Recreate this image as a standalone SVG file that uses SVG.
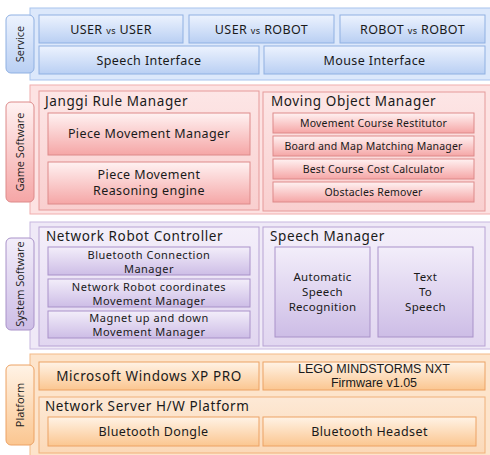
<svg xmlns="http://www.w3.org/2000/svg" width="490" height="455" viewBox="0 0 490 455">
<defs>
<linearGradient id="gB" x1="0" y1="0" x2="0" y2="1"><stop offset="0" stop-color="#edf3fe"/><stop offset="1" stop-color="#b9cff3"/></linearGradient>
<linearGradient id="gR" x1="0" y1="0" x2="0" y2="1"><stop offset="0" stop-color="#fff2f2"/><stop offset="1" stop-color="#f5a6a6"/></linearGradient>
<linearGradient id="gP" x1="0" y1="0" x2="0" y2="1"><stop offset="0" stop-color="#f3eefa"/><stop offset="1" stop-color="#cdbde6"/></linearGradient>
<linearGradient id="gO" x1="0" y1="0" x2="0" y2="1"><stop offset="0" stop-color="#fff3e6"/><stop offset="1" stop-color="#fbc690"/></linearGradient>
<linearGradient id="gPL" x1="0" y1="0" x2="0" y2="1"><stop offset="0" stop-color="#f4effa"/><stop offset="1" stop-color="#e1d6f0"/></linearGradient>
<linearGradient id="gRL" x1="0" y1="0" x2="0" y2="1"><stop offset="0" stop-color="#fde6e6"/><stop offset="1" stop-color="#f9cfcf"/></linearGradient>
<linearGradient id="gOL" x1="0" y1="0" x2="0" y2="1"><stop offset="0" stop-color="#fde9d6"/><stop offset="1" stop-color="#fbd9b8"/></linearGradient>
</defs>
<style>
text{font-family:"Noto Sans","DejaVu Sans",sans-serif;fill:#1a1a1a;}
.t{font-size:12.5px;text-anchor:middle;letter-spacing:0.4px;}
.t2{font-size:11px;text-anchor:middle;letter-spacing:0.5px;}
.s{font-size:10.5px;text-anchor:middle;letter-spacing:0.2px;}
.s2{font-size:11.5px;text-anchor:middle;letter-spacing:0.3px;}
.h{font-size:13.5px;letter-spacing:0.6px;}
.v{font-size:9px;}
.side{font-size:11px;text-anchor:middle;font-family:"Open Sans","Noto Sans",sans-serif;}
.ar{font-family:"Liberation Sans",Arial,sans-serif;font-size:12.5px;text-anchor:middle;}
.bB{fill:url(#gB);stroke:#8fb0e2;stroke-width:1;}
.bR{fill:url(#gR);stroke:#dd8a8a;stroke-width:1;}
.bP{fill:url(#gP);stroke:#a992c9;stroke-width:1;}
.bO{fill:url(#gO);stroke:#eca264;stroke-width:1;}
.lB{fill:#dce8fb;stroke:#a8c3ee;}
.lR{fill:#fde2e2;stroke:#f0aeae;}
.lP{fill:#efe9f7;stroke:#c8b8e0;}
.lO{fill:#fde4cb;stroke:#f3b987;}
</style>

<!-- Service layer -->
<g id="layer-service">
<rect class="lB" x="30" y="8" width="462" height="72"/>
<rect class="bB" x="6" y="15" width="28" height="58" rx="5"/>
<text class="side" transform="translate(24,44) rotate(-90)">Service</text>
</g>
<g id="user-vs-user"><rect class="bB" x="39" y="15" width="144" height="28"/><text class="t" x="111" y="34">USER <tspan class="v">vs</tspan>  USER</text></g>
<g id="user-vs-robot"><rect class="bB" x="189" y="15" width="145" height="28"/><text class="t" x="261.5" y="34">USER <tspan class="v">vs</tspan>  ROBOT</text></g>
<g id="robot-vs-robot"><rect class="bB" x="340" y="15" width="145" height="28"/><text class="t" x="412.5" y="34">ROBOT <tspan class="v">vs</tspan>  ROBOT</text></g>
<g id="speech-interface"><rect class="bB" x="39" y="46" width="220" height="28"/><text class="t" x="149" y="65">Speech Interface</text></g>
<g id="mouse-interface"><rect class="bB" x="264" y="46" width="221" height="28"/><text class="t" x="374.5" y="65">Mouse Interface</text></g>

<!-- Game Software layer -->
<g id="layer-game">
<rect class="lR" x="30" y="85" width="462" height="129"/>
<rect class="bR" x="6" y="102" width="28" height="100" rx="5"/>
<text class="side" transform="translate(24,152) rotate(-90)">Game Software</text>
</g>
<g id="janggi-rule-manager"><rect x="39" y="91" width="220" height="119" fill="url(#gRL)" stroke="#e59a9a"/><text class="h" x="45" y="106">Janggi Rule Manager</text></g>
<g id="piece-movement-manager"><rect class="bR" x="48" y="113" width="202" height="42"/><text class="t" x="149" y="138">Piece Movement Manager</text></g>
<g id="piece-movement-reasoning"><rect class="bR" x="48" y="162" width="202" height="42"/><text class="t" x="149" y="179">Piece Movement</text><text class="t" x="149" y="195">Reasoning engine</text></g>
<g id="moving-object-manager"><rect x="263" y="92" width="222" height="119" fill="url(#gRL)" stroke="#e59a9a"/><text class="h" x="271" y="106">Moving Object Manager</text></g>
<g id="movement-course-restitutor"><rect class="bR" x="273" y="113" width="201" height="20"/><text class="s" x="373.5" y="127">Movement Course Restitutor</text></g>
<g id="board-map-matching"><rect class="bR" x="273" y="136" width="201" height="20"/><text class="s" x="373.5" y="150">Board and Map Matching Manager</text></g>
<g id="best-course-cost"><rect class="bR" x="273" y="159" width="201" height="20"/><text class="s" x="373.5" y="173">Best Course Cost Calculator</text></g>
<g id="obstacles-remover"><rect class="bR" x="273" y="182" width="201" height="20"/><text class="s" x="373.5" y="196">Obstacles Remover</text></g>

<!-- System Software layer -->
<g id="layer-system">
<rect class="lP" x="30" y="222" width="462" height="127"/>
<rect class="bP" x="6" y="238" width="28" height="92" rx="5"/>
<text class="side" transform="translate(24,284) rotate(-90)">System  Software</text>
</g>
<g id="network-robot-controller"><rect x="39" y="227" width="220" height="119" fill="url(#gPL)" stroke="#b7a3d4"/><text class="h" x="46" y="241">Network Robot Controller</text></g>
<g id="bluetooth-connection-manager"><rect class="bP" x="48" y="247" width="202" height="28"/><text class="t2" x="149" y="258.5">Bluetooth Connection</text><text class="t2" x="149" y="272.5">Manager</text></g>
<g id="network-robot-coordinates"><rect class="bP" x="48" y="279" width="202" height="28"/><text class="t2" x="149" y="290.5">Network Robot coordinates</text><text class="t2" x="149" y="304.5">Movement Manager</text></g>
<g id="magnet-movement-manager"><rect class="bP" x="48" y="311" width="202" height="27"/><text class="t2" x="149" y="322">Magnet up and down</text><text class="t2" x="149" y="336">Movement Manager</text></g>
<g id="speech-manager"><rect x="263" y="227" width="222" height="119" fill="url(#gPL)" stroke="#b7a3d4"/><text class="h" x="270" y="241">Speech Manager</text></g>
<g id="asr"><rect class="bP" x="275" y="247" width="95" height="90"/><text class="s2" x="322.5" y="281">Automatic</text><text class="s2" x="322.5" y="296">Speech</text><text class="s2" x="322.5" y="311">Recognition</text></g>
<g id="tts"><rect class="bP" x="378" y="247" width="95" height="90"/><text class="s2" x="425.5" y="281">Text</text><text class="s2" x="425.5" y="296">To</text><text class="s2" x="425.5" y="311">Speech</text></g>

<!-- Platform layer -->
<g id="layer-platform">
<rect class="lO" x="30" y="354" width="462" height="103"/>
<rect class="bO" x="6" y="365" width="28" height="80" rx="5"/>
<text class="side" transform="translate(24,405) rotate(-90)">Platform</text>
</g>
<g id="windows-xp"><rect class="bO" x="39" y="362" width="220" height="28"/><text class="h" x="149" y="381" text-anchor="middle">Microsoft Windows XP PRO</text></g>
<g id="lego-nxt"><rect class="bO" x="263" y="362" width="222" height="28"/><text class="ar" x="374" y="373">LEGO MINDSTORMS NXT</text><text class="ar" x="374" y="387">Firmware v1.05</text></g>
<g id="network-server"><rect x="39" y="397" width="446" height="56" fill="url(#gOL)" stroke="#f0b07a"/><text class="h" x="45" y="411">Network Server H/W Platform</text></g>
<g id="bluetooth-dongle"><rect class="bO" x="48" y="417" width="211" height="29"/><text class="t" x="153.5" y="436">Bluetooth Dongle</text></g>
<g id="bluetooth-headset"><rect class="bO" x="263" y="417" width="213" height="29"/><text class="t" x="369.5" y="436">Bluetooth Headset</text></g>

<g id="connectors"></g>
</svg>
